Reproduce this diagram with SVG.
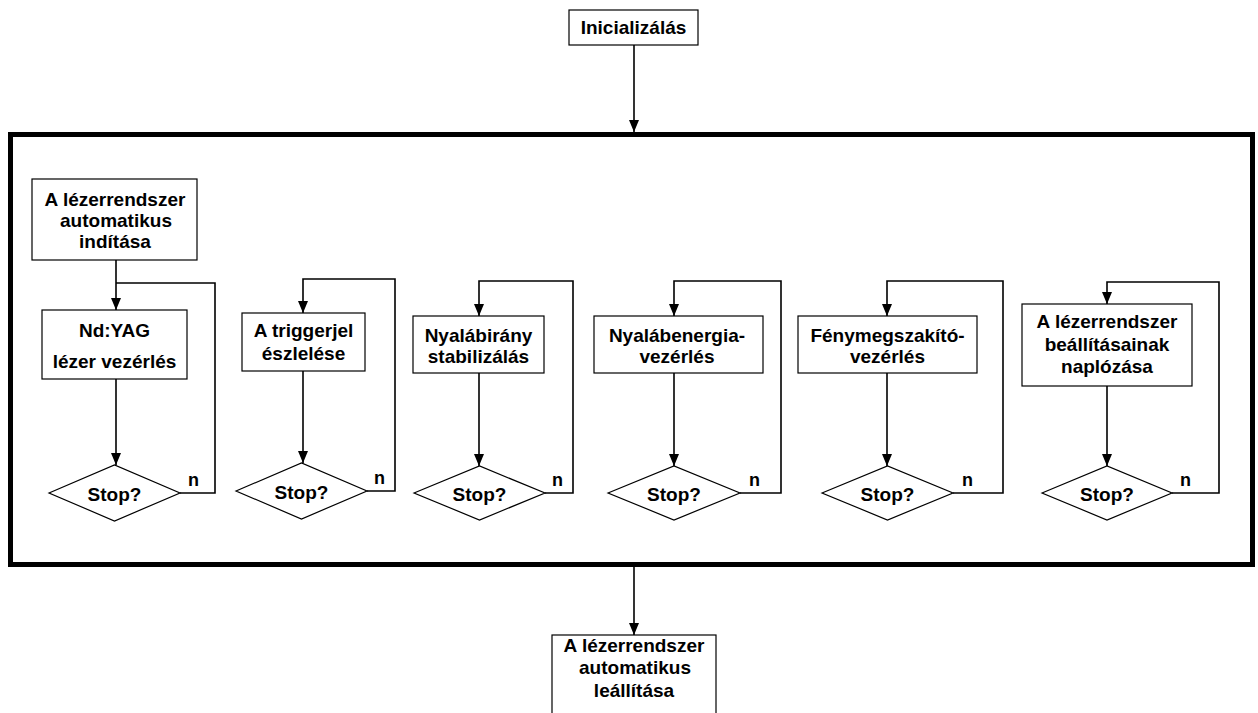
<svg xmlns="http://www.w3.org/2000/svg" width="1258" height="713" viewBox="0 0 1258 713">
<style>
.box{fill:#fff;stroke:#000;stroke-width:1.2}
.t{font-family:"Liberation Sans",Arial,sans-serif;font-weight:bold;font-size:19px;fill:#000;text-anchor:middle}
.n{font-family:"Liberation Sans",Arial,sans-serif;font-weight:bold;font-size:18px;fill:#000}
.c{fill:none;stroke:#000;stroke-width:1.6}
</style>
<defs>
<marker id="ah" markerUnits="userSpaceOnUse" markerWidth="12" markerHeight="12" viewBox="0 0 12 12" refX="12" refY="6" orient="auto">
<path d="M0,1 L12,6 L0,11 z" fill="#000"/>
</marker>
</defs>
<rect id="frame" x="10.5" y="134.5" width="1242" height="430" fill="none" stroke="#000" stroke-width="5"/>
<g id="connectors">
<path class="c" d="M634,45 V132" marker-end="url(#ah)"/>
<path class="c" d="M634,567 V635" marker-end="url(#ah)"/>
<path class="c" d="M116,260 V310" marker-end="url(#ah)"/>
<path class="c" d="M116,379 V465" marker-end="url(#ah)"/>
<path class="c" d="M180,493 H215 V283 H116"/>
<path class="c" d="M303,371 V463" marker-end="url(#ah)"/>
<path class="c" d="M367,491 H395 V279 H303 V313" marker-end="url(#ah)"/>
<path class="c" d="M479,373 V466" marker-end="url(#ah)"/>
<path class="c" d="M545,493 H573 V281 H479 V316" marker-end="url(#ah)"/>
<path class="c" d="M674,373 V466" marker-end="url(#ah)"/>
<path class="c" d="M740,493 H781 V281 H674 V316" marker-end="url(#ah)"/>
<path class="c" d="M887,373 V466" marker-end="url(#ah)"/>
<path class="c" d="M953,493 H1003 V281 H887 V316" marker-end="url(#ah)"/>
<path class="c" d="M1107,386 V466" marker-end="url(#ah)"/>
<path class="c" d="M1172,493 H1219 V282 H1107 V304" marker-end="url(#ah)"/>
</g>
<g id="init"><rect class="box" x="569" y="10" width="129" height="35"/><text class="t" x="633.5" y="34">Inicializálás</text></g>
<g id="start"><rect class="box" x="32" y="179" width="165" height="81"/><text class="t" x="115" y="206">A lézerrendszer</text><text class="t" x="116" y="227">automatikus</text><text class="t" x="115" y="248">indítása</text></g>
<g id="ndyag"><rect class="box" x="42" y="310" width="145" height="69"/><text class="t" x="114.5" y="337">Nd:YAG</text><text class="t" x="114.5" y="368">lézer vezérlés</text></g>
<g id="stop1"><polygon class="box" points="49,493 114.5,465 180,493 114.5,521"/><text class="t" x="114.5" y="501">Stop?</text><text class="n" x="188" y="486">n</text></g>
<g id="trigger"><rect class="box" x="242" y="313" width="123" height="58"/><text class="t" x="303.5" y="337">A triggerjel</text><text class="t" x="303.5" y="360">észlelése</text></g>
<g id="stop2"><polygon class="box" points="236,491 301.5,463 367,491 301.5,519"/><text class="t" x="301.5" y="499">Stop?</text><text class="n" x="374" y="484">n</text></g>
<g id="irany"><rect class="box" x="413" y="316" width="131" height="57"/><text class="t" x="478.5" y="342">Nyalábirány</text><text class="t" x="478.5" y="363">stabilizálás</text></g>
<g id="stop3"><polygon class="box" points="414,493 479.5,466 545,493 479.5,520"/><text class="t" x="479.5" y="501">Stop?</text><text class="n" x="552" y="486">n</text></g>
<g id="energia"><rect class="box" x="594" y="316" width="169" height="57"/><text class="t" x="677" y="342">Nyalábenergia-</text><text class="t" x="677" y="363">vezérlés</text></g>
<g id="stop4"><polygon class="box" points="608,493 674,466 740,493 674,520"/><text class="t" x="674" y="501">Stop?</text><text class="n" x="749" y="486">n</text></g>
<g id="feny"><rect class="box" x="798" y="316" width="179" height="57"/><text class="t" x="887.5" y="342">Fénymegszakító-</text><text class="t" x="887.5" y="363">vezérlés</text></g>
<g id="stop5"><polygon class="box" points="822,493 887.5,466 953,493 887.5,520"/><text class="t" x="887.5" y="501">Stop?</text><text class="n" x="962" y="486">n</text></g>
<g id="naplo"><rect class="box" x="1022" y="304" width="170" height="82"/><text class="t" x="1107" y="328">A lézerrendszer</text><text class="t" x="1107" y="351">beállításainak</text><text class="t" x="1107" y="373">naplózása</text></g>
<g id="stop6"><polygon class="box" points="1042,493 1107,466 1172,493 1107,520"/><text class="t" x="1107" y="501">Stop?</text><text class="n" x="1180" y="486">n</text></g>
<g id="end"><rect class="box" x="552" y="635" width="164" height="90"/><text class="t" x="634" y="652">A lézerrendszer</text><text class="t" x="635" y="674">automatikus</text><text class="t" x="634" y="697">leállítása</text></g>
</svg>
